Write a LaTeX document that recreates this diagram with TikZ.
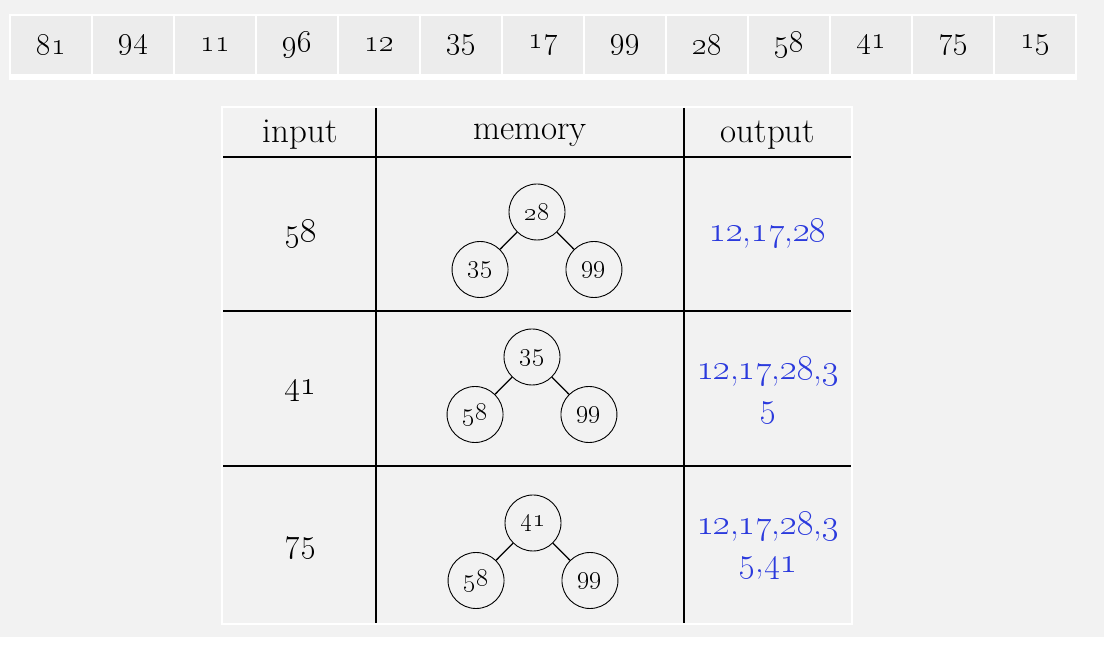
\documentclass[tikz,border=0pt]{standalone}
\usepackage{fix-cm}
\usepackage{tikz-qtree}

\definecolor{pagegray}{HTML}{F2F2F2}
\definecolor{cellgray}{HTML}{ECECEC}
\definecolor{outblue}{HTML}{2B3ADD}
\newcommand{\os}[1]{\oldstylenums{#1}}

\tikzset{
  numcell/.style={fill=cellgray, minimum width=80pt, minimum height=58pt,
    inner sep=0pt, font=\fontsize{31}{34}\selectfont},
  headtext/.style={font=\fontsize{35}{40}\selectfont},
  intext/.style={font=\fontsize{34}{40}\selectfont},
  outtext/.style={text=outblue, align=center, font=\fontsize{35}{38}\selectfont},
  treenode/.style={circle, draw, line width=0.9pt, minimum size=56pt,
    inner sep=0pt, anchor=center, font=\fontsize{26}{30}\selectfont},
  rule/.style={line width=1.5pt}
}

\begin{document}
\begin{tikzpicture}[x=1pt,y=1pt,
  level distance=57.5pt, sibling distance=57pt,
  every tree node/.style={treenode},
  edge from parent/.style={draw, line width=1.3pt,
    edge from parent path={(\tikzparentnode) -- (\tikzchildnode)}}]
\useasboundingbox (0,0) rectangle (1104,647);
\fill[white] (0,0) rectangle (1104,647);
\fill[pagegray] (0,10) rectangle (1104,647);

% input sequence
\fill[white] (9,567) rectangle (1077,633);
\foreach \v [count=\i from 0] in {81,94,11,96,12,35,17,99,28,58,41,75,15}
  \node[numcell] (top\i) at (51+82*\i,602) {\os{\v}};

% table frame
\fill[white] (221,22) rectangle (853,541);
\fill[pagegray] (223,24) rectangle (851,539);
\draw[rule] (223,490) -- (851,490);
\draw[rule] (223,336) -- (851,336);
\draw[rule] (223,181) -- (851,181);
\draw[rule] (376,539) -- (376,24);
\draw[rule] (684,539) -- (684,24);

\node[headtext] (hin) at (300,512) {input};
\node[headtext] (hmem) at (530,512) {memory};
\node[headtext] (hout) at (768,512) {output};

% row 1
\node[intext] (in1) at (300,413) {\os{58}};
\begin{scope}[shift={(537,435)}]
\Tree [.\node(m1r){\os{28}}; \node(m1a){\os{35}}; \node(m1b){\os{99}}; ]
\end{scope}
\node[outtext] (out1) at (768,413) {\os{12},\os{17},\os{28}};

% row 2
\node[intext] (in2) at (300,257) {\os{41}};
\begin{scope}[shift={(532,290)}]
\Tree [.\node(m2r){\os{35}}; \node(m2a){\os{58}}; \node(m2b){\os{99}}; ]
\end{scope}
\node[outtext] (out2) at (768,256) {\os{12},\os{17},\os{28},\os{3}\\\os{5}};

% row 3
\node[intext] (in3) at (300,99) {\os{75}};
\begin{scope}[shift={(533,124)}]
\Tree [.\node(m3r){\os{41}}; \node(m3a){\os{58}}; \node(m3b){\os{99}}; ]
\end{scope}
\node[outtext] (out3) at (768,101) {\os{12},\os{17},\os{28},\os{3}\\\os{5},\os{41}};
\end{tikzpicture}
\end{document}
